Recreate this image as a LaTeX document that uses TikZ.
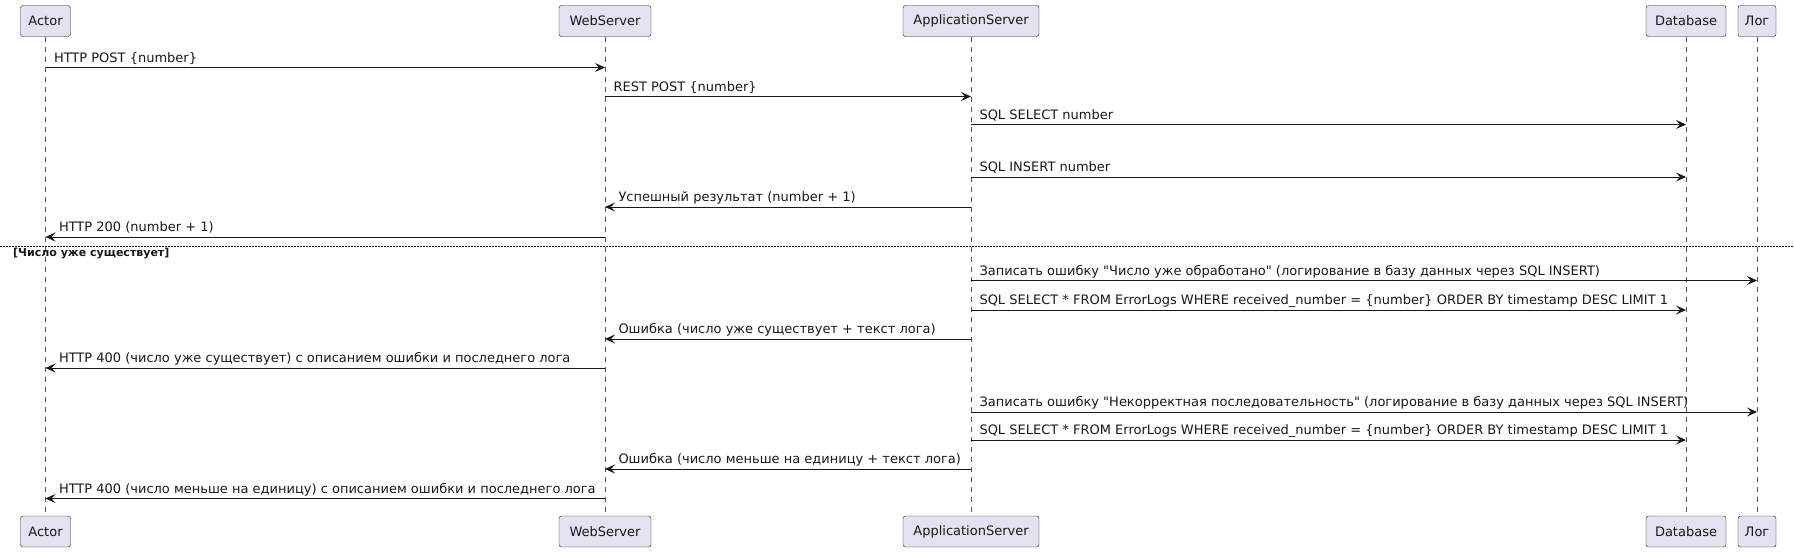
\documentclass[tikz,border=0pt]{standalone}
\usepackage{fontspec}
\setmainfont{DejaVu Sans}[Ligatures=TeXOff]
\usetikzlibrary{arrows.meta}
\definecolor{boxfill}{HTML}{E2E2F0}
\definecolor{ink}{HTML}{181818}

\begin{document}
\begin{tikzpicture}[x=1pt,y=-1pt,
    every node/.style={font=\fontsize{13}{15}\selectfont, text=ink},
    part/.style={draw=ink, fill=boxfill, rounded corners=2.5pt, minimum height=31pt, inner xsep=0pt},
    life/.style={draw=ink!75, dash pattern=on 5pt off 5pt, line width=0.5pt},
    msg/.style={draw=ink, line width=1pt, -{Stealth[length=10pt,width=9pt,inset=4pt]}},
    rlbl/.style={anchor=base west, inner sep=0pt, pos=0, xshift=8pt, yshift=5.5pt},
    llbl/.style={anchor=base west, inner sep=0pt, pos=1, xshift=13pt, yshift=5.5pt}]
    \useasboundingbox (0,0) rectangle (1794,552);
    % participants
    \node[part, minimum width=50pt] (actT) at (45.5,21) {Actor};
    \node[part, minimum width=92pt] (webT) at (605,21) {WebServer};
    \node[part, minimum width=136pt] (appT) at (971,21) {ApplicationServer};
    \node[part, minimum width=80pt] (dbT) at (1686,21) {Database};
    \node[part, minimum width=38pt] (logT) at (1757,21) {Лог};
    \node[part, minimum width=50pt] (actB) at (45.5,531.5) {Actor};
    \node[part, minimum width=92pt] (webB) at (605,531.5) {WebServer};
    \node[part, minimum width=136pt] (appB) at (971,531.5) {ApplicationServer};
    \node[part, minimum width=80pt] (dbB) at (1686,531.5) {Database};
    \node[part, minimum width=38pt] (logB) at (1757,531.5) {Лог};
    % lifelines
    \draw[life] (actT) -- (actB);
    \draw[life] (webT) -- (webB);
    \draw[life] (appT) -- (appB);
    \draw[life] (dbT) -- (dbB);
    \draw[life] (logT) -- (logB);
    % messages
    \draw[msg] (actT |- 0,67.5) -- node[rlbl] (m1) {HTTP POST \{number\}} (webT |- 0,67.5);
    \draw[msg] (webT |- 0,96.5) -- node[rlbl] (m2) {REST POST \{number\}} (appT |- 0,96.5);
    \draw[msg] (appT |- 0,124.5) -- node[rlbl] (m3) {SQL SELECT number} (dbT |- 0,124.5);
    \draw[msg] (appT |- 0,177) -- node[rlbl] (m4) {SQL INSERT number} (dbT |- 0,177);
    \draw[msg] (appT |- 0,207) -- node[llbl] (m5) {Успешный результат (number + 1)} (webT |- 0,207);
    \draw[msg] (webT |- 0,237) -- node[llbl] (m6) {HTTP 200 (number + 1)} (actT |- 0,237);
    % else
    \coordinate (elseL) at (0,246);
    \coordinate (elseR) at (1794,246);
    \draw[ink, line width=0.8pt, dash pattern=on 1.5pt off 1.5pt] (elseL) -- (elseR);
    \node[anchor=base west, inner sep=0pt, font=\fontsize{11}{13}\selectfont\bfseries] (cond) at (13,256) {[Число уже существует]};
    \draw[msg] (appT |- 0,280.5) -- node[rlbl] (m7) {Записать ошибку "Число уже обработано" (логирование в базу данных через SQL INSERT)} (logT |- 0,280.5);
    \draw[msg] (appT |- 0,310) -- node[rlbl] (m8) {SQL SELECT * FROM ErrorLogs WHERE received\_number = \{number\} ORDER BY timestamp DESC LIMIT 1} (dbT |- 0,310);
    \draw[msg] (appT |- 0,339) -- node[llbl] (m9) {Ошибка (число уже существует + текст лога)} (webT |- 0,339);
    \draw[msg] (webT |- 0,368) -- node[llbl] (m10) {HTTP 400 (число уже существует) с описанием ошибки и последнего лога} (actT |- 0,368);
    \draw[msg] (appT |- 0,412) -- node[rlbl] (m11) {Записать ошибку "Некорректная последовательность" (логирование в базу данных через SQL INSERT)} (logT |- 0,412);
    \draw[msg] (appT |- 0,440) -- node[rlbl] (m12) {SQL SELECT * FROM ErrorLogs WHERE received\_number = \{number\} ORDER BY timestamp DESC LIMIT 1} (dbT |- 0,440);
    \draw[msg] (appT |- 0,469) -- node[llbl] (m13) {Ошибка (число меньше на единицу + текст лога)} (webT |- 0,469);
    \draw[msg] (webT |- 0,498.5) -- node[llbl] (m14) {HTTP 400 (число меньше на единицу) с описанием ошибки и последнего лога} (actT |- 0,498.5);
\end{tikzpicture}
\end{document}
